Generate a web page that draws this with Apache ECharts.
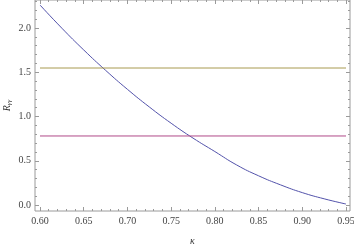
<!DOCTYPE html>
<html><head><meta charset="utf-8">
<script src="https://cdn.jsdelivr.net/npm/echarts@6/dist/echarts.min.js"></script>
<style>html,body{margin:0;padding:0;background:#fff}#c{width:354px;height:245px}</style>
</head><body><div id="c"></div>
<script>
// Data
var KAPPA = [0.600, 0.625, 0.650, 0.675, 0.700, 0.725, 0.750, 0.775, 0.800, 0.825, 0.850, 0.875, 0.900, 0.925, 0.950];
var R_GG  = [2.26, 1.998, 1.752, 1.522, 1.307, 1.108, 0.924, 0.756, 0.604, 0.452, 0.33, 0.228, 0.14, 0.07, 0.011];
var LEVEL_YELLOW = 1.548;
var LEVEL_PINK = 0.78;
var X_TICKS = [0.60, 0.95, 0.05];   // min, max, step
var Y_TICKS = [0.0, 2.0, 0.5];
var Y_MINOR_MAX = 2.3;

var curve = KAPPA.map(function (k, i) { return [k, R_GG[i]]; });
var xs = [KAPPA[0], KAPPA[KAPPA.length - 1]];
var lineY = xs.map(function (k) { return [k, LEVEL_YELLOW]; });
var lineP = xs.map(function (k) { return [k, LEVEL_PINK]; });

// layout: tick grid maps 0.60..0.95 to x 40..346, 0..2 to y 205..28
var pxX = (346 - 40) / (X_TICKS[1] - X_TICKS[0]);
var pxY = (205 - 28) / (Y_TICKS[1] - Y_TICKS[0]);
var X0MIN = X_TICKS[0] - 5 / pxX, X0MAX = X_TICKS[0] + (350 - 40) / pxX;
var Y0MIN = -(211 - 205) / pxY, Y0MAX = Y_TICKS[1] + 28 / pxY;

var frameC = '#9a9a9a';
var lblStyle = { fontFamily: 'Liberation Serif', fontSize: 10, color: '#444' };
var off = { show: false };
var noLine = { show: false, onZero: false };

var chart = echarts.init(document.getElementById('c'), null, { renderer: 'canvas' });
chart.setOption({
  animation: false,
  grid: [
    { left: 35, right: 4, top: 0, bottom: 34, show: true, borderColor: frameC, borderWidth: 1, backgroundColor: 'transparent', outerBoundsMode: 'none', containLabel: false },
    { left: 40, right: 8, top: 28, bottom: 40, outerBoundsMode: 'none', containLabel: false },
    { left: 40, right: 8, top: 205 - Y_MINOR_MAX * pxY, bottom: 40, outerBoundsMode: 'none', containLabel: false }
  ],
  xAxis: [
    { gridIndex: 0, type: 'value', min: X0MIN, max: X0MAX, axisLine: noLine, axisTick: off, axisLabel: off, splitLine: off,
      name: 'κ', nameLocation: 'middle', nameGap: 25,
      nameTextStyle: { fontFamily: 'Liberation Serif', fontStyle: 'italic', fontSize: 10, color: '#333' } },
    { gridIndex: 1, type: 'value', min: X_TICKS[0], max: X_TICKS[1], interval: X_TICKS[2], position: 'bottom', offset: 6,
      axisLine: noLine, splitLine: off,
      axisTick: { show: true, inside: true, length: 4, lineStyle: { color: frameC } },
      minorTick: { show: true, splitNumber: 5, length: 2, lineStyle: { color: frameC } },
      axisLabel: Object.assign({ margin: 5, formatter: function (v) { return v.toFixed(2); } }, lblStyle) },
    { gridIndex: 1, type: 'value', min: X_TICKS[0], max: X_TICKS[1], interval: X_TICKS[2], position: 'top', offset: 28,
      axisLine: noLine, splitLine: off, axisLabel: off,
      axisTick: { show: true, inside: true, length: 4, lineStyle: { color: frameC } },
      minorTick: { show: true, splitNumber: 5, length: 2, lineStyle: { color: frameC } } },
    { gridIndex: 2, type: 'value', min: X_TICKS[0], max: X_TICKS[1], show: false, axisLine: noLine }
  ],
  yAxis: [
    { gridIndex: 0, type: 'value', min: Y0MIN, max: Y0MAX, axisLine: noLine, axisTick: off, axisLabel: off, splitLine: off,
      name: '{i|R}{s|γγ}', nameLocation: 'middle', nameGap: 22, nameRotate: 90,
      nameTextStyle: { rich: {
        i: { fontFamily: 'Liberation Serif', fontStyle: 'italic', fontSize: 10, color: '#333' },
        s: { fontFamily: 'Liberation Serif', fontStyle: 'italic', fontSize: 7, color: '#333', padding: [5, 0, 0, 0] } } } },
    { gridIndex: 1, type: 'value', min: Y_TICKS[0], max: Y_TICKS[1], interval: Y_TICKS[2], position: 'left', offset: 5,
      axisLine: noLine, splitLine: off,
      axisTick: { show: true, inside: true, length: 4, lineStyle: { color: frameC } },
      axisLabel: Object.assign({ margin: 4, formatter: function (v) { return v.toFixed(1); } }, lblStyle) },
    { gridIndex: 1, type: 'value', min: Y_TICKS[0], max: Y_TICKS[1], interval: Y_TICKS[2], position: 'right', offset: 4,
      axisLine: noLine, splitLine: off, axisLabel: off,
      axisTick: { show: true, inside: true, length: 4, lineStyle: { color: frameC } } },
    { gridIndex: 2, type: 'value', min: 0, max: Y_MINOR_MAX, interval: 0.1, position: 'left', offset: 5,
      axisLine: noLine, splitLine: off, axisLabel: off,
      axisTick: { show: true, inside: true, length: 2, lineStyle: { color: frameC } } },
    { gridIndex: 2, type: 'value', min: 0, max: Y_MINOR_MAX, interval: 0.1, position: 'right', offset: 4,
      axisLine: noLine, splitLine: off, axisLabel: off,
      axisTick: { show: true, inside: true, length: 2, lineStyle: { color: frameC } } }
  ],
  series: [
    { type: 'line', xAxisIndex: 0, yAxisIndex: 0, data: curve, smooth: true, symbol: 'none',
      lineStyle: { color: '#5252aa', width: 1 } },
    { type: 'line', xAxisIndex: 0, yAxisIndex: 0, data: lineY, symbol: 'none',
      lineStyle: { color: '#a89a50', width: 1 } },
    { type: 'line', xAxisIndex: 0, yAxisIndex: 0, data: lineP, symbol: 'none',
      lineStyle: { color: '#b04a88', width: 1 } }
  ]
});
</script></body></html>
